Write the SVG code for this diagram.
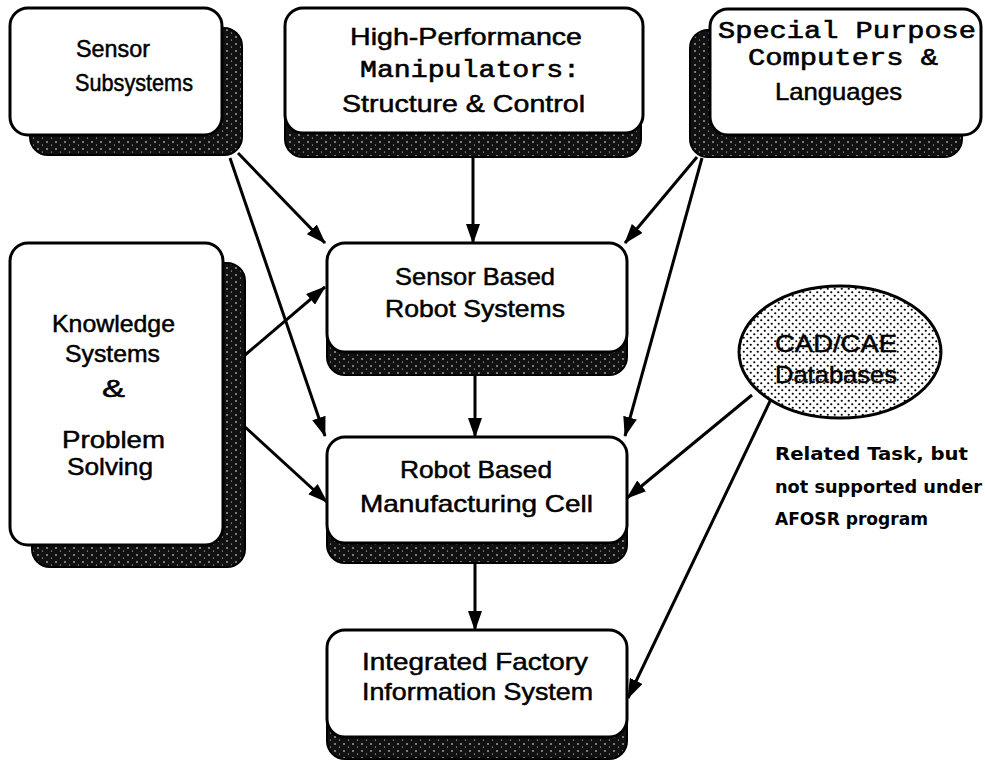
<svg xmlns="http://www.w3.org/2000/svg" width="985" height="762" viewBox="0 0 985 762">
<style>
.box{fill:#fff;stroke:#000;stroke-width:3}
.shadow{fill:url(#speckle);stroke:#000;stroke-width:2}
.t{font-family:"Liberation Sans",Arial,sans-serif;font-size:24px;fill:#000;stroke:#000;stroke-width:0.5}
.m{font-family:"Liberation Mono","Courier New",monospace;font-size:24px;fill:#000;stroke:#000;stroke-width:0.6}
.s{font-family:"DejaVu Sans","Liberation Sans",sans-serif;font-size:17px;font-weight:bold;fill:#000}
.c{stroke:#000;stroke-width:3;fill:none;marker-end:url(#ah)}
</style>
<defs>
<pattern id="speckle" width="9" height="7" patternUnits="userSpaceOnUse">
<rect width="9" height="7" fill="#111"/>
<circle cx="2" cy="2" r="0.8" fill="#fff"/>
<circle cx="6.5" cy="5" r="0.6" fill="#ddd"/>
</pattern>
<pattern id="dots" width="7" height="7" patternUnits="userSpaceOnUse">
<rect width="7" height="7" fill="#fff"/>
<circle cx="1.75" cy="1.75" r="1.1" fill="#000"/>
<circle cx="5.25" cy="5.25" r="1.1" fill="#000"/>
</pattern>
<marker id="ah" markerWidth="20" markerHeight="14" refX="19" refY="7" orient="auto" markerUnits="userSpaceOnUse">
<path d="M0,0 L20,7 L0,14 z" fill="#000"/>
</marker>
</defs>
<g id="connectors">
<line class="c" x1="238" y1="153" x2="325" y2="243"/>
<line class="c" x1="230" y1="158" x2="325" y2="436"/>
<line class="c" x1="473" y1="157" x2="473" y2="243"/>
<line class="c" x1="697" y1="157" x2="625" y2="243"/>
<line class="c" x1="702" y1="158" x2="625" y2="436"/>
<line class="c" x1="245" y1="355" x2="325" y2="287"/>
<line class="c" x1="245" y1="427" x2="327" y2="502"/>
<line class="c" x1="475" y1="375" x2="475" y2="437"/>
<line class="c" x1="752" y1="395" x2="627" y2="498"/>
<line class="c" x1="772" y1="397" x2="628" y2="698"/>
<line class="c" x1="475" y1="563" x2="475" y2="630"/>
</g>
<g id="sensor-subsystems">
<rect class="shadow" x="30" y="28" width="212" height="127" rx="18"/>
<rect class="box" x="10" y="8" width="212" height="127" rx="18"/>
<text class="t" x="76" y="57" textLength="74" lengthAdjust="spacingAndGlyphs">Sensor</text>
<text class="t" x="75" y="91" textLength="118" lengthAdjust="spacingAndGlyphs">Subsystems</text>
</g>
<g id="manipulators">
<rect class="shadow" x="285" y="22" width="356" height="135" rx="18"/>
<rect class="box" x="285" y="8" width="358" height="125" rx="18"/>
<text class="t" x="350" y="45" textLength="232" lengthAdjust="spacingAndGlyphs">High-Performance</text>
<text class="m" x="360" y="77" textLength="220" lengthAdjust="spacingAndGlyphs">Manipulators:</text>
<text class="t" x="342" y="112" textLength="243" lengthAdjust="spacingAndGlyphs">Structure &amp; Control</text>
</g>
<g id="special-purpose">
<rect class="shadow" x="690" y="30" width="272" height="127" rx="18"/>
<rect class="box" x="710" y="9" width="271" height="126" rx="18"/>
<text class="m" x="718" y="38" textLength="258" lengthAdjust="spacingAndGlyphs">Special Purpose</text>
<text class="m" x="748" y="65" textLength="190" lengthAdjust="spacingAndGlyphs">Computers &amp;</text>
<text class="t" x="775" y="100" textLength="127" lengthAdjust="spacingAndGlyphs">Languages</text>
</g>
<g id="knowledge">
<rect class="shadow" x="32" y="263" width="213" height="304" rx="18"/>
<rect class="box" x="10" y="243" width="213" height="302" rx="18"/>
<text class="t" x="52" y="332" textLength="123" lengthAdjust="spacingAndGlyphs">Knowledge</text>
<text class="t" x="65" y="362" textLength="95" lengthAdjust="spacingAndGlyphs">Systems</text>
<text class="t" x="102" y="397" textLength="23" lengthAdjust="spacingAndGlyphs">&amp;</text>
<text class="t" x="62" y="448" textLength="103" lengthAdjust="spacingAndGlyphs">Problem</text>
<text class="t" x="67" y="475" textLength="86" lengthAdjust="spacingAndGlyphs">Solving</text>
</g>
<g id="sensor-based">
<rect class="shadow" x="327" y="262" width="300" height="113" rx="18"/>
<rect class="box" x="327" y="243" width="300" height="109" rx="18"/>
<text class="t" x="395" y="285" textLength="160" lengthAdjust="spacingAndGlyphs">Sensor Based</text>
<text class="t" x="385" y="317" textLength="180" lengthAdjust="spacingAndGlyphs">Robot Systems</text>
</g>
<g id="robot-based">
<rect class="shadow" x="327" y="455" width="300" height="108" rx="18"/>
<rect class="box" x="327" y="437" width="300" height="106" rx="18"/>
<text class="t" x="400" y="478" textLength="152" lengthAdjust="spacingAndGlyphs">Robot Based</text>
<text class="t" x="360" y="512" textLength="233" lengthAdjust="spacingAndGlyphs">Manufacturing Cell</text>
</g>
<g id="integrated">
<rect class="shadow" x="327" y="650" width="300" height="109" rx="18"/>
<rect class="box" x="327" y="630" width="300" height="107" rx="18"/>
<text class="t" x="362" y="670" textLength="226" lengthAdjust="spacingAndGlyphs">Integrated Factory</text>
<text class="t" x="362" y="700" textLength="231" lengthAdjust="spacingAndGlyphs">Information System</text>
</g>
<g id="cad-cae">
<ellipse cx="840" cy="352" rx="101" ry="66" fill="url(#dots)" stroke="#000" stroke-width="3"/>
<text class="t" x="775" y="352" textLength="122" lengthAdjust="spacingAndGlyphs">CAD/CAE</text>
<text class="t" x="775" y="383" textLength="122" lengthAdjust="spacingAndGlyphs">Databases</text>
</g>
<g id="note">
<text class="s" x="775" y="460" textLength="193" lengthAdjust="spacingAndGlyphs">Related Task, but</text>
<text class="s" x="775" y="493" textLength="207" lengthAdjust="spacingAndGlyphs">not supported under</text>
<text class="s" x="775" y="525" textLength="153" lengthAdjust="spacingAndGlyphs">AFOSR program</text>
</g>
</svg>
